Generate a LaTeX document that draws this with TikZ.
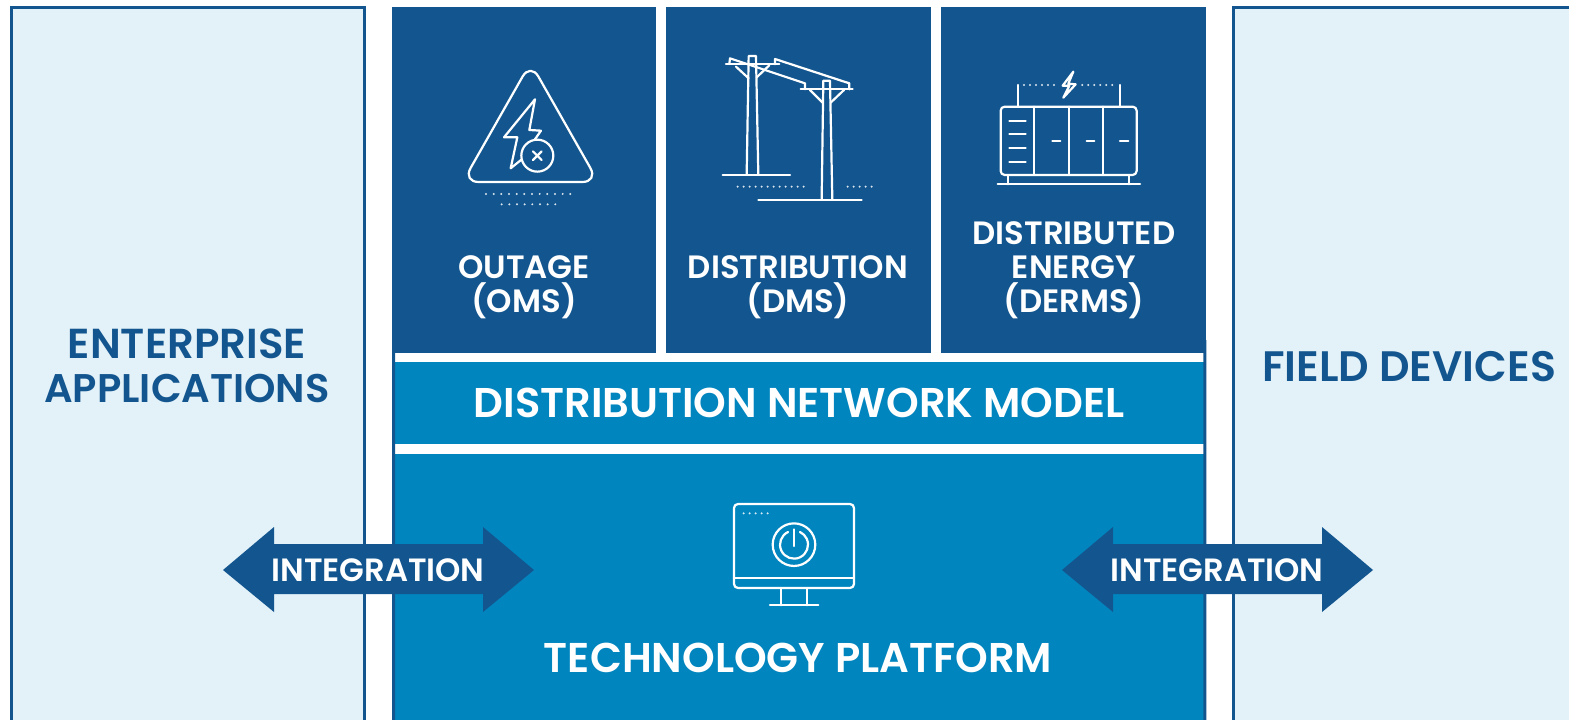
\documentclass[tikz,border=0pt]{standalone}
\usepackage{fontspec}
\setmainfont{Poppins}[BoldFont={Poppins SemiBold}]
\definecolor{navy}{HTML}{13568F}
\definecolor{midblue}{HTML}{0085BF}
\definecolor{pale}{HTML}{E3F1F8}
\tikzset{
 cell/.style={fill=navy,draw=none},
 band/.style={fill=midblue,draw=none},
 side/.style={fill=pale,draw=navy,line width=3pt},
 icon/.style={draw=white,line width=2.2pt,line join=round,line cap=round},
 dotrow/.style={fill=white,opacity=.85},
 lab/.style={text=white,align=center,font=\fontsize{32.3}{34}\selectfont\bfseries,inner sep=0pt},
 sidelab/.style={text=navy,align=center,font=\fontsize{40}{44}\selectfont\bfseries,inner sep=0pt},
 wide/.style={text=white,font=\fontsize{41.6}{44}\selectfont\bfseries,inner sep=0pt},
 intlab/.style={text=white,font=\fontsize{32.2}{34}\selectfont\bfseries,inner sep=0pt},
 dblarrow/.style={fill=navy,draw=none}
}
\begin{document}
\begin{tikzpicture}[x=1pt,y=-1pt]
\useasboundingbox (0,0) rectangle (1569,720);
% side panels
\path[side] (11,7.5) rectangle (364.2,730);
\path[side] (1233.8,7.5) rectangle (1580,730);
% centre
\path[cell] (392,6.5) rectangle (656,352.5);
\path[cell] (666,6.5) rectangle (931,352.5);
\path[cell] (941,6.5) rectangle (1206,352.5);
\path[band] (394,362.3) rectangle (1204,443.7);
\path[band] (394,453.7) rectangle (1204,730);
\fill[navy] (392,340) rectangle (395,730) (1203.3,340) rectangle (1206.3,730);
% labels
\node[sidelab] (ent) at (187,366) {{\fontsize{41.9}{44}\selectfont ENTERPRISE}\\APPLICATIONS};
\node[sidelab,font=\fontsize{42.6}{44}\selectfont\bfseries] (fld) at (1409,367) {FIELD DEVICES};
\node[lab] (oms) at (524,287) {OUTAGE\\(OMS)};
\node[lab] (dms) at (798,287) {DISTRIBUTION\\(DMS)};
\node[lab] (der) at (1074,270) {DISTRIBUTED\\ENERGY\\(DERMS)};
\node[wide] (net) at (799,403) {DISTRIBUTION NETWORK MODEL};
\node[wide] (tech) at (798,658) {TECHNOLOGY PLATFORM};
% outage icon
\begin{scope}[shift={(440,50)},x=.3333pt,y=-.3333pt]
\draw[icon,rounded corners=16pt] (271.5,38) -- (68,396) -- (475,396) -- cycle;
\draw[icon] (243,330) -- (212,355) -- (232,262) -- (192,262) -- (285,148) -- (268,240) -- (303,242) -- (285,268);
\draw[icon] (292,317) circle[radius=16pt];
\draw[icon] (279,304) -- (305,330) (305,304) -- (279,330);
\foreach \k in {0,...,11}{\fill[dotrow] (138+\k*23,432) circle[radius=1.1pt];}
\foreach \k in {0,...,7}{\fill[dotrow] (185+\k*23,463) circle[radius=1.1pt];}
\end{scope}
% poles icon
\begin{scope}[shift={(700,40)},x=.3333pt,y=-.3333pt]
\draw[icon] (140,405) -- (146,48) -- (168,48) -- (175,405);
\draw[icon] (365,478) -- (370,122) -- (390,122) -- (397,478);
\draw[icon] (78,73) -- (238,73) (302,148) -- (458,148);
\draw[icon] (108,80) -- (146,115) (208,76) -- (170,112);
\draw[icon] (330,150) -- (368,188) (432,150) -- (392,188);
\draw[icon] (88,72) -- (90,55) -- (315,130) -- (315,148);
\draw[icon] (225,73) -- (225,57) -- (448,130) -- (448,148);
\draw[icon] (68,405) -- (270,405) (175,479) -- (485,479);
\foreach \k in {0,...,11}{\fill[dotrow] (113+\k*18,440) circle[radius=1.1pt];}
\foreach \k in {0,...,4}{\fill[dotrow] (443+\k*18,440) circle[radius=1.1pt];}
\end{scope}
% battery icon
\begin{scope}[shift={(980,55)},x=.3333pt,y=-.3333pt]
\draw[icon,rounded corners=4pt] (62,155) rectangle (470,360);
\draw[icon] (162,155) -- (162,360) (267,155) -- (267,360) (370,155) -- (370,360);
\foreach \yy in {197,238,280,321}{\draw[icon] (88,\yy) -- (137,\yy);}
\draw[icon] (217,258) -- (241,258) (320,258) -- (343,258) (420,258) -- (445,258);
\draw[icon] (113,90) -- (113,155) (419,90) -- (419,155);
\draw[icon] (280,50) -- (248,92) -- (268,92) -- (250,128) -- (287,88) -- (265,86) -- cycle;
\draw[icon] (85,360) -- (85,388) (447,360) -- (447,388) (53,388) -- (480,388);
\foreach \k in {0,...,5}{\fill[dotrow] (132+\k*18,90) circle[radius=1.1pt];\fill[dotrow] (307+\k*18,90) circle[radius=1.1pt];}
\end{scope}
% monitor icon
\begin{scope}[shift={(710,490)},x=.3333pt,y=-.3333pt]
\draw[icon,rounded corners=4pt] (72,42) rectangle (432,294);
\draw[icon] (72,264) -- (432,264);
\draw[icon] (214,294) -- (214,346) (291,294) -- (291,346) (180,346) -- (325,346);
\draw[icon] (252,164) circle[radius=21.3pt];
\draw[icon] (234.3,125.9) arc[start angle=115,end angle=425,radius=14pt];
\draw[icon] (252,118) -- (252,168);
\foreach \k in {0,...,4}{\fill[dotrow] (101+\k*18,70) circle[radius=1.1pt];}
\end{scope}
% integration arrows
\fill[dblarrow] (223,570) -- (274,527) -- (274,544) -- (483,544) -- (483,527) -- (534,570) -- (483,612) -- (483,594) -- (274,594) -- (274,612) -- cycle;
\fill[dblarrow] (1062,570) -- (1113,527) -- (1113,544) -- (1322,544) -- (1322,527) -- (1373,570) -- (1322,612) -- (1322,594) -- (1113,594) -- (1113,612) -- cycle;
\node[intlab] (int1) at (378,570) {INTEGRATION};
\node[intlab] (int2) at (1217,570) {INTEGRATION};
\end{tikzpicture}
\end{document}
